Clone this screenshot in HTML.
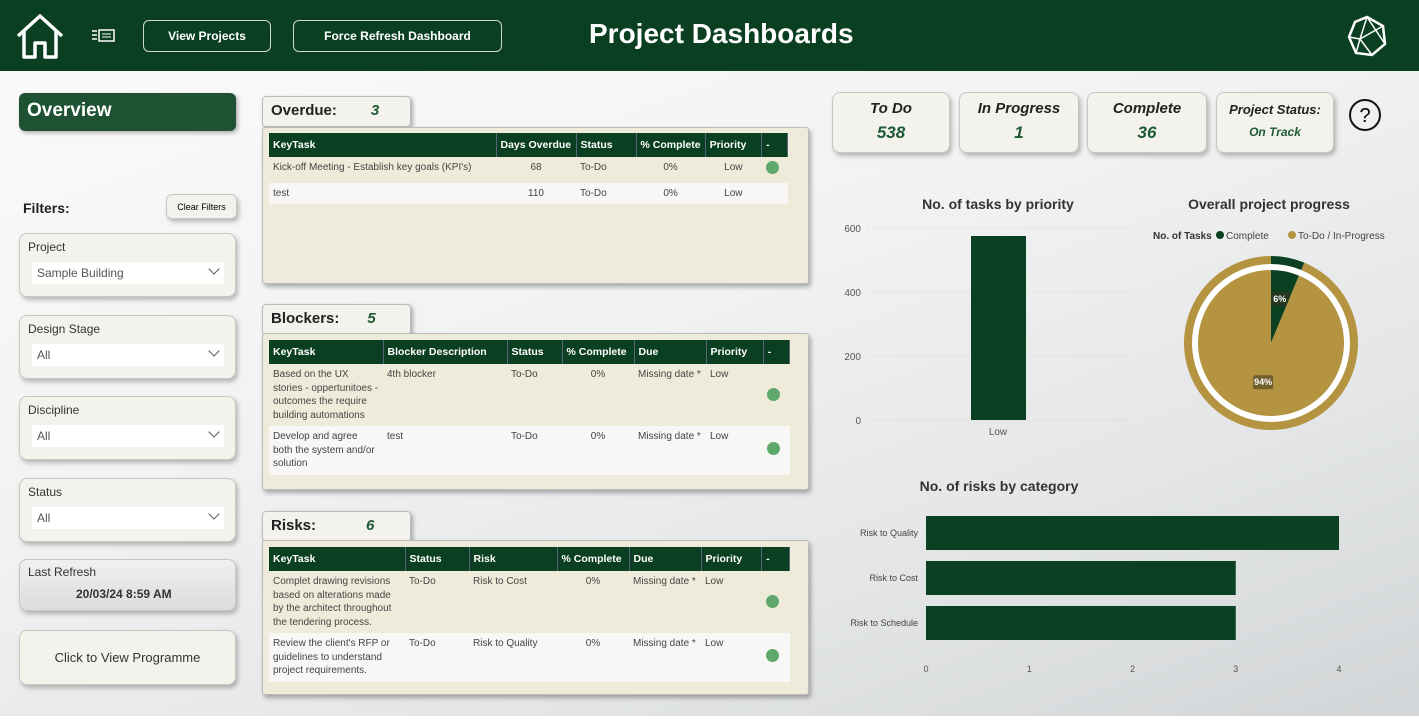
<!DOCTYPE html>
<html><head><meta charset="utf-8"><style>
*{box-sizing:border-box;margin:0;padding:0}
body{width:1419px;height:720px;overflow:hidden;font-family:"Liberation Sans",sans-serif;background:#fff;position:relative}
.abs{position:absolute}
#hdr{left:0;top:0;width:1419px;height:71px;background:#0b3f22}
.hbtn{border:1px solid #cfd8cf;border-radius:6px;color:#fff;font-size:12px;font-weight:bold;display:flex;align-items:center;justify-content:center;height:32px;top:20px}
#main{left:0;top:71px;width:1419px;height:645px;background:linear-gradient(160deg,#fafafa 0%,#f1f2f2 40%,#e4e6e7 70%,#d2d5d7 100%)}
.card{background:#f3f2ec;border:1px solid #c8c8c0;border-radius:8px;box-shadow:2px 3px 5px rgba(0,0,0,.25)}
.flt{left:19px;width:217px;height:64px}
.flt .lbl{position:absolute;left:8px;top:6px;font-size:12px;color:#333}
.flt .sel{position:absolute;left:12px;top:28px;width:192px;height:22px;background:#fff;font-size:12px;color:#555;padding:4px 5px}
.flt .sel:after{content:"";position:absolute;right:6px;top:3px;width:7px;height:7px;border-right:1.5px solid #555;border-bottom:1.5px solid #555;transform:rotate(45deg)}
.tab{background:#f3f2ec;border:1px solid #bbb;border-radius:4px;box-shadow:2px 2px 4px rgba(0,0,0,.3);font-weight:bold;font-size:15px;padding:5px 8px;color:#222}
.tab i{color:#1d5a33;margin-left:34px}
.panel{background:#efebdb;border:1px solid #bbb;border-radius:3px;box-shadow:2px 3px 5px rgba(0,0,0,.3);overflow:hidden}
table{border-collapse:collapse;font-size:10px;color:#444}
th{background:#0b3f22;color:#fff;text-align:left;font-size:10.5px;height:24px;padding:0 4px;border-right:1px solid #567;white-space:nowrap}
td{padding:4px 4px;vertical-align:top;line-height:13.5px}
.dot{display:inline-block;width:13px;height:13px;border-radius:50%;background:#5fa86b;margin-top:8px}
.kpi{top:92px;height:61px;text-align:center;font-style:italic;font-weight:bold;color:#222}
.kpi .t{font-size:15px;margin-top:7px}
.kpi .v{font-size:17px;color:#1d5a33;margin-top:6px}
</style></head><body>
<div id="hdr" class="abs">
 <svg class="abs" style="left:14px;top:12px" width="52" height="48"><path d="M4 24 L26 4 L48 24 M10 19 V45 H21 V31 H31 V45 H42 V19" fill="none" stroke="#fff" stroke-width="3.5" stroke-linejoin="round"/></svg>
 <svg class="abs" style="left:92px;top:28px" width="24" height="16"><path d="M0 3h5M0 7h5M0 11h5" stroke="#fff" stroke-width="1.5"/><rect x="7" y="2" width="15" height="11" fill="none" stroke="#fff" stroke-width="1.5"/><path d="M10 6h9M10 9h9" stroke="#fff"/></svg>
 <div class="abs hbtn" style="left:143px;width:128px">View Projects</div>
 <div class="abs hbtn" style="left:293px;width:209px">Force Refresh Dashboard</div>
 <div class="abs" style="left:589px;top:18px;color:#fff;font-size:28px;font-weight:bold">Project Dashboards</div>
 <svg class="abs" style="left:1346px;top:15px" width="42" height="42"><polygon points="21,2 37,11 39,29 26,40 10,38 3,22 9,7" fill="none" stroke="#fff" stroke-width="2.5"/><path d="M21 2 L14 24 L26 40 M14 24 L3 22 M14 24 L37 11 M21 2 L39 29 M10 38 L14 24" stroke="#fff" stroke-width="1.5" fill="none"/></svg>
</div>
<div id="main" class="abs"></div>

<div class="abs" style="left:19px;top:93px;width:217px;height:38px;background:#1e5232;border-radius:6px;box-shadow:2px 2px 4px rgba(0,0,0,.3);color:#fff;font-size:19px;font-weight:bold;padding:7px 8px">Overview</div>
<div class="abs" style="left:23px;top:200px;font-size:14px;font-weight:bold;color:#222">Filters:</div>
<div class="abs card" style="left:166px;top:194px;width:71px;height:25px;font-size:9px;display:flex;align-items:center;justify-content:center;border-radius:6px">Clear Filters</div>
<div class="abs card flt" style="top:233px"><div class="lbl">Project</div><div class="sel">Sample Building</div></div>
<div class="abs card flt" style="top:315px"><div class="lbl">Design Stage</div><div class="sel">All</div></div>
<div class="abs card flt" style="top:396px"><div class="lbl">Discipline</div><div class="sel">All</div></div>
<div class="abs card flt" style="top:478px"><div class="lbl">Status</div><div class="sel">All</div></div>
<div class="abs card" style="left:19px;top:559px;width:217px;height:52px;background:linear-gradient(#f0f0f0,#dcdcdc)"><div style="position:absolute;left:8px;top:5px;font-size:12px;color:#333">Last Refresh</div><div style="position:absolute;left:56px;top:27px;font-size:12px;font-weight:bold;color:#333">20/03/24 8:59 AM</div></div>
<div class="abs card" style="left:19px;top:630px;width:217px;height:55px;font-size:13px;display:flex;align-items:center;justify-content:center;color:#333">Click to View Programme</div>

<div class="abs tab" style="left:262px;top:96px;width:149px;height:31px">Overdue:<i>3</i></div>
<div class="abs panel" style="left:262px;top:127px;width:547px;height:157px">
<table style="margin:5px 0 0 6px;width:519px">
<tr><th style="width:227px">KeyTask</th><th style="width:80px">Days Overdue</th><th style="width:60px">Status</th><th style="width:64px">% Complete</th><th>Priority</th><th>-</th></tr>
<tr style="background:#efebdb"><td>Kick-off Meeting - Establish key goals (KPI's)</td><td style="text-align:center">68</td><td>To-Do</td><td style="text-align:center">0%</td><td style="text-align:center">Low</td><td><span class="dot" style="margin-top:0"></span></td></tr>
<tr style="background:#f7f7f5"><td>test</td><td style="text-align:center">110</td><td>To-Do</td><td style="text-align:center">0%</td><td style="text-align:center">Low</td><td></td></tr>
</table></div>

<div class="abs tab" style="left:262px;top:304px;width:149px;height:31px">Blockers:<i style="margin-left:28px">5</i></div>
<div class="abs panel" style="left:262px;top:333px;width:547px;height:157px">
<table style="margin:6px 0 0 6px;width:521px">
<tr><th style="width:114px">KeyTask</th><th style="width:124px">Blocker Description</th><th style="width:55px">Status</th><th style="width:72px">% Complete</th><th style="width:72px">Due</th><th>Priority</th><th>-</th></tr>
<tr><td>Based on the UX stories - oppertunitoes - outcomes the require building automations</td><td>4th blocker</td><td>To-Do</td><td style="text-align:center">0%</td><td>Missing date *</td><td>Low</td><td><span class="dot" style="margin-top:20px"></span></td></tr>
<tr style="background:#f7f7f5"><td>Develop and agree both the system and/or solution</td><td>test</td><td>To-Do</td><td style="text-align:center">0%</td><td>Missing date *</td><td>Low</td><td><span class="dot" style="margin-top:12px"></span></td></tr>
</table></div>

<div class="abs tab" style="left:262px;top:511px;width:149px;height:31px">Risks:<i style="margin-left:50px">6</i></div>
<div class="abs panel" style="left:262px;top:540px;width:547px;height:155px">
<table style="margin:6px 0 0 6px;width:521px">
<tr><th style="width:136px">KeyTask</th><th style="width:64px">Status</th><th style="width:88px">Risk</th><th style="width:72px">% Complete</th><th style="width:72px">Due</th><th>Priority</th><th>-</th></tr>
<tr><td>Complet drawing revisions based on alterations made by the architect throughout the tendering process.</td><td>To-Do</td><td>Risk to Cost</td><td style="text-align:center">0%</td><td>Missing date *</td><td>Low</td><td><span class="dot" style="margin-top:20px"></span></td></tr>
<tr style="background:#f7f7f5"><td>Review the client's RFP or guidelines to understand project requirements.</td><td>To-Do</td><td>Risk to Quality</td><td style="text-align:center">0%</td><td>Missing date *</td><td>Low</td><td><span class="dot" style="margin-top:12px"></span></td></tr>
</table></div>

<div class="abs card kpi" style="left:832px;width:118px"><div class="t">To Do</div><div class="v">538</div></div>
<div class="abs card kpi" style="left:959px;width:120px"><div class="t">In Progress</div><div class="v">1</div></div>
<div class="abs card kpi" style="left:1087px;width:120px"><div class="t">Complete</div><div class="v">36</div></div>
<div class="abs card kpi" style="left:1216px;width:118px"><div class="t" style="font-size:13px;margin-top:9px">Project Status:</div><div class="v" style="font-size:12px;margin-top:8px">On Track</div></div>
<svg class="abs" style="left:1348px;top:98px" width="34" height="34"><circle cx="17" cy="17" r="15" fill="none" stroke="#111" stroke-width="2"/><text x="17" y="24" text-anchor="middle" font-size="20" font-family="Liberation Sans">?</text></svg>

<svg class="abs" id="charts" style="left:0;top:0" width="1419" height="720"></svg>
<script>
const priCats=["Low"];
const priVals=[575];
const priTicks=[0,200,400,600];
const riskCats=["Risk to Quality","Risk to Cost","Risk to Schedule"];
const riskVals=[4,3,3];
const riskTicks=[0,1,2,3,4];
const pieLabels=["Complete","To-Do / In-Progress"];
const pieVals=[36,539];
const NS="http://www.w3.org/2000/svg";
const svg=document.getElementById('charts');
function mk(t,a,txt){const e=document.createElementNS(NS,t);for(const k in a)e.setAttribute(k,a[k]);if(txt!==undefined)e.textContent=txt;svg.appendChild(e);return e;}
const G="#0b4023",F="Liberation Sans";
let e=mk('text',{x:998,y:209,'text-anchor':'middle','font-size':14,'font-weight':'bold','font-family':F,fill:'#333'},'No. of tasks by priority');

const y0=420,yTop=228,pMax=600;const yS=v=>y0-(v/pMax)*(y0-yTop);
priTicks.forEach(t=>{let l=mk('line',{x1:868,x2:1128,y1:yS(t),y2:yS(t),stroke:'#ccc','stroke-dasharray':'1 3'});
let tx=mk('text',{x:861,y:yS(t)+4,'text-anchor':'end','font-size':10,'font-family':F,fill:'#555'},t);});
priCats.forEach((c,i)=>{const cx=998+i*60;let r=mk('rect',{x:cx-27,y:yS(priVals[i]),width:55,height:y0-yS(priVals[i]),fill:G});
let tx=mk('text',{x:cx,y:435,'text-anchor':'middle','font-size':10,'font-family':F,fill:'#555'},c);});
e=mk('text',{x:1269,y:209,'text-anchor':'middle','font-size':14,'font-weight':'bold','font-family':F,fill:'#333'},'Overall project progress');

e=mk('text',{x:1153,y:239,'font-size':10,'font-weight':'bold','font-family':F,fill:'#333'},'No. of Tasks');
const legX=[1226,1298],legC=[G,'#b59441'];
pieLabels.forEach((l,i)=>{let c=mk('circle',{cx:legX[i]-6,cy:235,r:4,fill:legC[i]});
let t=mk('text',{x:legX[i],y:239,'font-size':10,'font-family':F,fill:'#444'},l);});
const pcx=1271,pcy=343,tot=pieVals.reduce((a,b)=>a+b,0);
function arc(r,a0,a1){const p=a=>[pcx+r*Math.sin(a),pcy-r*Math.cos(a)];const [x0,yy0]=p(a0),[x1,y1]=p(a1);return `M${pcx} ${pcy}L${x0} ${yy0}A${r} ${r} 0 ${a1-a0>Math.PI?1:0} 1 ${x1} ${y1}Z`;}
let a=0;pieVals.forEach((v,i)=>{const a1=a+v/tot*2*Math.PI;
let o=mk('path',{d:arc(87,a,a1),fill:legC[i]});a=a1;});
e=mk('circle',{cx:pcx,cy:pcy,r:79,fill:'#fff'});
a=0;pieVals.forEach((v,i)=>{const a1=a+v/tot*2*Math.PI;
let s=mk('path',{d:arc(73,a,a1),fill:legC[i]});
const m=(a+a1)/2,lr=i==0?45:40;const lx=pcx+lr*Math.sin(m),ly=pcy-lr*Math.cos(m);const txt=Math.round(v/tot*100)+'%';
let b=mk('rect',{x:lx-10,y:ly-7,width:20,height:14,rx:2,fill:'rgba(60,50,30,.55)'});
let t=mk('text',{x:lx,y:ly+3,'text-anchor':'middle','font-size':9,'font-weight':'bold','font-family':F,fill:'#fff'},txt);a=a1;});
e=mk('text',{x:999,y:491,'text-anchor':'middle','font-size':14,'font-weight':'bold','font-family':F,fill:'#333'},'No. of risks by category');

const x0=926,x4=1339,rMax=4;const xS=v=>x0+v/rMax*(x4-x0);
riskTicks.forEach(t=>{let tx=mk('text',{x:xS(t),y:672,'text-anchor':'middle','font-size':9,'font-family':F,fill:'#555'},t);});
riskCats.forEach((c,i)=>{const cy=533+i*45;let r=mk('rect',{x:x0,y:cy-17,width:xS(riskVals[i])-x0,height:34,fill:G});
let t=mk('text',{x:918,y:cy+3,'text-anchor':'end','font-size':9,'font-family':F,fill:'#444'},c);});
</script>
</body></html>
